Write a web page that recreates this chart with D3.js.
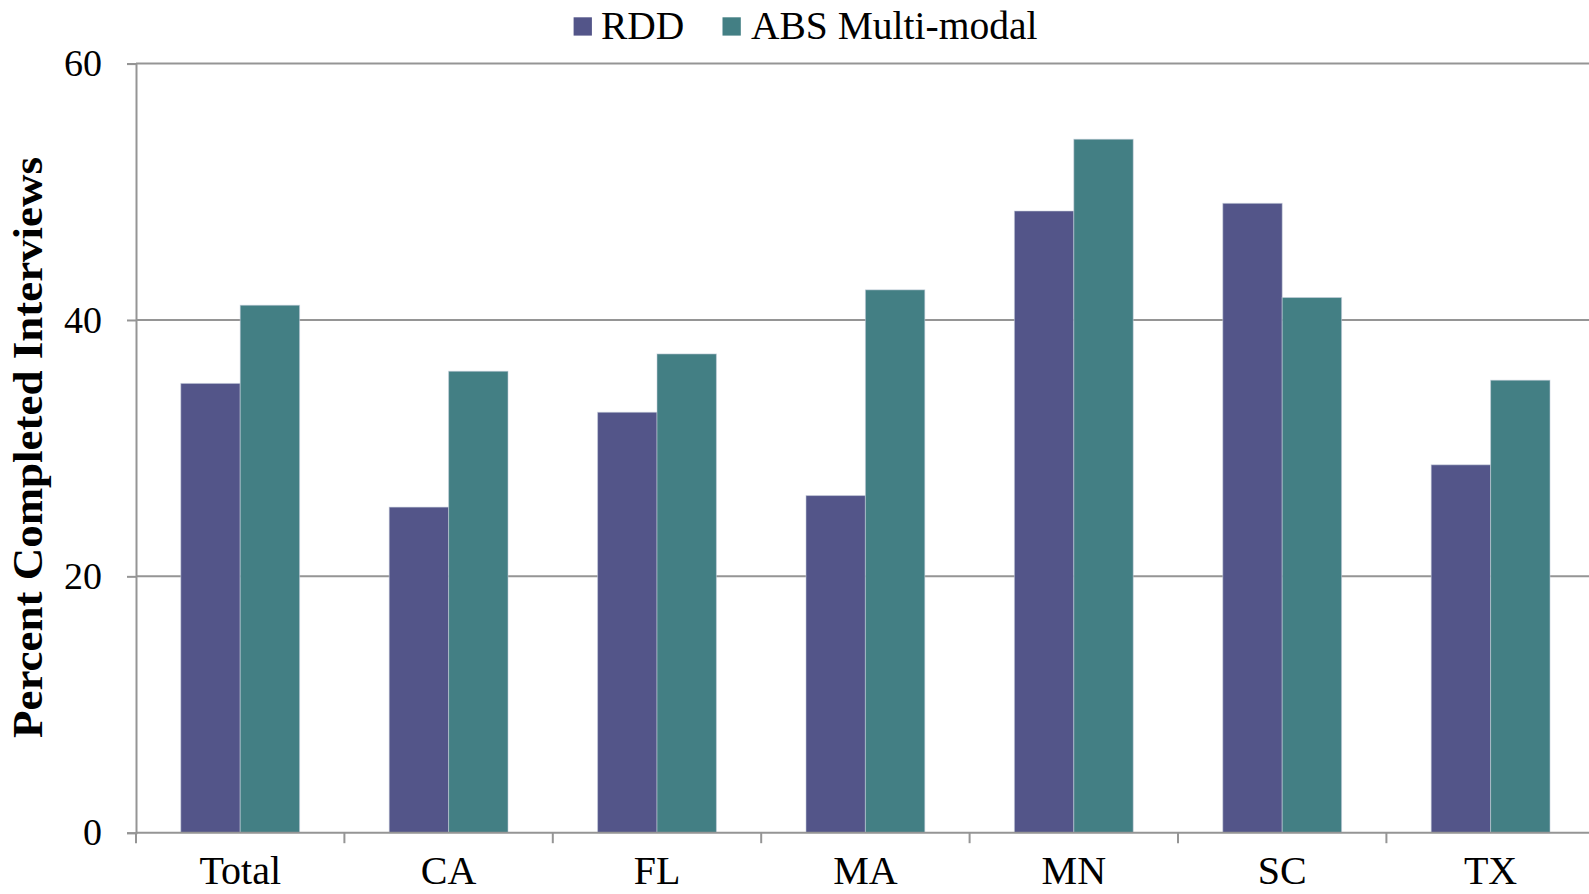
<!DOCTYPE html>
<html>
<head>
<meta charset="utf-8">
<script src="https://cdn.jsdelivr.net/npm/d3@7"></script>
<style>
  html, body { margin: 0; padding: 0; background: #fff; overflow: hidden; }
  svg { display: block; }
  text { font-family: "Liberation Serif", "Times New Roman", serif; fill: #000; }
</style>
</head>
<body>
<svg id="chart" width="1589" height="894"></svg>
<script>
// Categories and series
const categories = ["Total", "CA", "FL", "MA", "MN", "SC", "TX"];
const seriesNames = ["RDD", "ABS Multi-modal"];
const rddValues = [35.05, 25.4, 32.8, 26.3, 48.5, 49.1, 28.7];
const absValues = [41.15, 36.0, 37.35, 42.35, 54.1, 41.75, 35.3];
const yTicks = [0, 20, 40, 60];
const seriesColors = ["#535589", "#437f84"];

const svg = d3.select("#chart");
const W = 1589, H = 894;

// Plot area
const plotLeft = 136, plotTop = 63.6, plotBottom = 832.7;
const step = 208.4;
const plotRight = plotLeft + step * categories.length;

const x0 = d3.scaleBand().domain(categories).range([plotLeft, plotRight]).padding(0);
const x1 = d3.scaleBand().domain(seriesNames).range([0, x0.bandwidth()])
  .paddingInner(0).paddingOuter(0.754);
const y = d3.scaleLinear().domain([0, 60]).range([plotBottom, plotTop]);

const gridColor = "#959595";

// Horizontal gridlines
svg.append("g")
  .selectAll("line")
  .data(yTicks.filter(d => d > 0))
  .join("line")
  .attr("x1", plotLeft).attr("x2", W)
  .attr("y1", d => y(d)).attr("y2", d => y(d))
  .attr("stroke", gridColor).attr("stroke-width", 2);

// Bars
const rows = categories.map((c, i) => ({ cat: c, values: [rddValues[i], absValues[i]] }));
const groups = svg.append("g")
  .selectAll("g")
  .data(rows)
  .join("g")
  .attr("transform", d => `translate(${x0(d.cat)},0)`);

groups.selectAll("rect")
  .data(d => d.values.map((v, k) => ({ name: seriesNames[k], value: v, k })))
  .join("rect")
  .attr("x", d => x1(d.name))
  .attr("width", x1.bandwidth())
  .attr("y", d => y(d.value))
  .attr("height", d => y(0) - y(d.value))
  .attr("fill", d => seriesColors[d.k])
  .attr("stroke", "#c8d0dc")
  .attr("stroke-opacity", 0.55)
  .attr("stroke-width", 1);

// Y axis
const yAxis = d3.axisLeft(y).tickValues(yTicks).tickSize(9).tickPadding(25).tickFormat(d3.format("d"));
const gy = svg.append("g").attr("transform", `translate(${plotLeft},0)`).call(yAxis);
gy.select(".domain").attr("stroke", gridColor).attr("stroke-width", 2);
gy.selectAll(".tick line").attr("stroke", gridColor).attr("stroke-width", 2);
gy.selectAll(".tick text")
  .attr("font-family", "Liberation Serif, serif")
  .attr("font-size", 38)
  .attr("fill", "#000");

// X axis: baseline and ticks at category boundaries
svg.append("line")
  .attr("x1", plotLeft).attr("x2", W)
  .attr("y1", plotBottom).attr("y2", plotBottom)
  .attr("stroke", gridColor).attr("stroke-width", 2);

svg.append("g")
  .selectAll("line")
  .data(categories)
  .join("line")
  .attr("x1", d => x0(d)).attr("x2", d => x0(d))
  .attr("y1", plotBottom).attr("y2", plotBottom + 10.5)
  .attr("stroke", gridColor).attr("stroke-width", 2);

svg.append("g")
  .selectAll("text")
  .data(categories)
  .join("text")
  .attr("x", d => x0(d) + x0.bandwidth() / 2)
  .attr("y", 884)
  .attr("text-anchor", "middle")
  .attr("font-size", 40)
  .text(d => d);

// Y axis title
svg.append("text")
  .attr("transform", `translate(42,${(157 + 738) / 2}) rotate(-90)`)
  .attr("text-anchor", "middle")
  .attr("font-weight", "bold")
  .attr("font-size", 42)
  .attr("textLength", 581)
  .attr("lengthAdjust", "spacingAndGlyphs")
  .text("Percent Completed Interviews");

// Legend
const legendItems = [
  { name: "RDD", color: seriesColors[0], sx: 573.6, tx: 601 },
  { name: "ABS Multi-modal", color: seriesColors[1], sx: 722.5, tx: 751 }
];
const lg = svg.append("g");
lg.selectAll("rect")
  .data(legendItems)
  .join("rect")
  .attr("x", d => d.sx).attr("y", 17.3)
  .attr("width", 18.3).attr("height", 18.3)
  .attr("fill", d => d.color);
lg.selectAll("text")
  .data(legendItems)
  .join("text")
  .attr("x", d => d.tx).attr("y", 38.5)
  .attr("font-size", 39.5)
  .text(d => d.name);
</script>
</body>
</html>
